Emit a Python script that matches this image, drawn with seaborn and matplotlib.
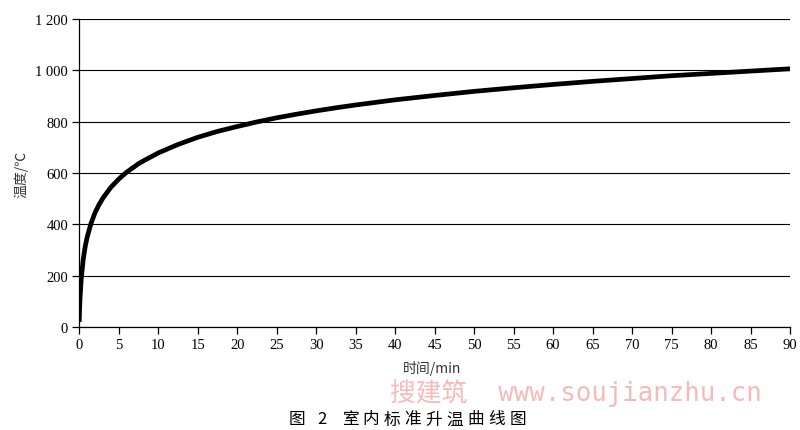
import matplotlib
matplotlib.use("Agg")
import matplotlib.pyplot as plt
import seaborn as sns
import pandas as pd

# Data
time_min = [0, 0.05, 0.1, 0.25, 0.5, 0.75, 1, 1.5, 2, 2.5, 3, 4, 5, 6, 7.5, 8, 10,
            12.5, 15, 17.5, 20, 22.5, 25, 27.5, 30, 32.5, 35, 40, 45, 50, 55, 60,
            65, 70, 75, 80, 85, 90]
temp_c = [20, 70, 108, 185, 261, 312, 349, 404, 445, 476, 502, 544, 576, 603, 636,
          645, 678, 711, 739, 762, 781, 799, 815, 829, 842, 854, 865, 885, 902, 918,
          932, 945, 957, 968, 979, 988, 997, 1006]
x_ticks = list(range(0, 91, 5))
y_ticks = [0, 200, 400, 600, 800, 1000, 1200]
y_tick_labels = ["0", "200", "400", "600", "800", "1 000", "1 200"]
title_chars = ["图", "2", "室", "内", "标", "准", "升", "温", "曲", "线", "图"]

sns.set_theme(style="white")
plt.rcParams['font.family'] = ['Liberation Serif', 'Noto Sans CJK SC', 'DejaVu Sans']

df = pd.DataFrame({"t": time_min, "T": temp_c})

W, H = 800, 431
fig = plt.figure(figsize=(8, 4.31), dpi=100)
ax = fig.add_axes([0.099, 0.239, 0.8885, 0.7146])
sns.lineplot(data=df, x="t", y="T", ax=ax, color="black", linewidth=3.4,
             solid_joinstyle="round", solid_capstyle="butt")

ax.set_xlim(0, 90)
ax.set_ylim(0, 1200)
ax.set_xticks(x_ticks)
ax.set_xticklabels([str(v) for v in x_ticks], fontsize=10.5)
ax.set_yticks(y_ticks)
ax.set_yticklabels(y_tick_labels, fontsize=10.5)
ax.grid(axis="y", color="black", linewidth=0.8)
ax.set_axisbelow(True)
for s in ["top", "right"]:
    ax.spines[s].set_visible(False)
for s in ["left", "bottom"]:
    ax.spines[s].set_color("black")
    ax.spines[s].set_linewidth(0.9)
ax.tick_params(axis="both", direction="out", length=5, width=0.9, color="black",
               labelcolor="black", bottom=True, left=True, pad=3)
ax.set_xlabel("")
ax.set_ylabel("")

cjk = ['Noto Sans CJK SC', 'DejaVu Sans']
mono_cjk = ['DejaVu Sans Mono', 'Noto Sans CJK SC']
fig.text(0.026, 0.595, "温度/℃", rotation=90, ha="center", va="center",
         fontsize=10, family=cjk, color="#333333")
fig.text(0.54, 0.146, "时间/min", ha="center", va="center",
         fontsize=10, family=cjk, color="#333333")
fig.text(390 / W, 1 - 393 / H, "搜建筑  www.soujianzhu.cn", ha="left", va="center",
         fontsize=18.5, family=mono_cjk, color="#f7baba")

# caption with letter spacing, one glyph per text
title_x = [297, 322] + [350 + 21 * i for i in range(9)]
for ch, px in zip(title_chars, title_x):
    fig.text(px / W, 1 - 420 / H, ch, ha="center", va="center",
             fontsize=12, family=cjk, color="black")

fig.savefig("out.png", dpi=100)
